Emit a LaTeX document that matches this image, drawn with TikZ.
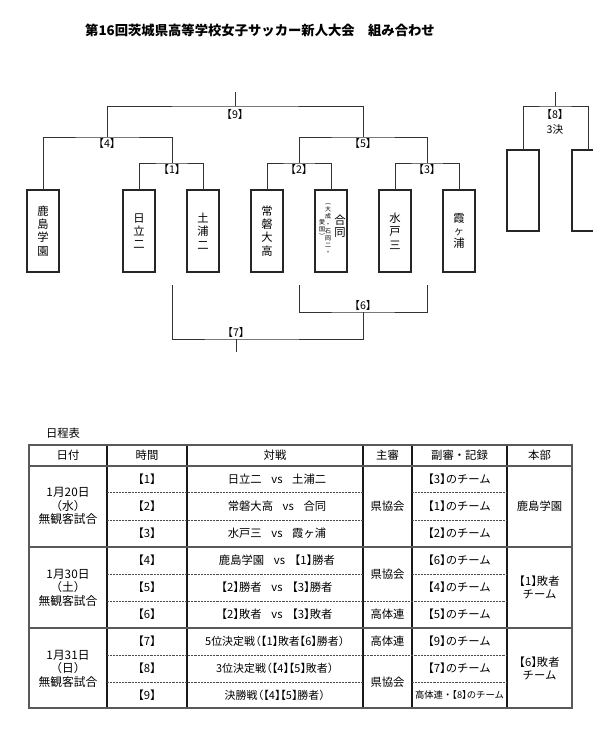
\documentclass[tikz,border=0pt]{standalone}
\usepackage{fontspec}
\setmainfont{Noto Sans CJK JP}
\usepackage{tikz}
\newcommand\bkt[1]{\makebox[0.5em][r]{【}#1\makebox[0.5em][l]{】}}
\newcommand\lpar{\makebox[0.55em][r]{（}}
\newcommand\rpar{\makebox[0.55em][l]{）}}
\newcommand\vsgap{\hspace{0.85em}}

\begin{document}
\begin{tikzpicture}[x=0.75pt, y=-0.75pt,
    line/.style={line width=0.75pt, black!80},
    teambox/.style={draw=black!85, line width=0.9pt, minimum width=24pt, minimum height=61.5pt,
        inner sep=0pt, align=center, font=\fontsize{8.5}{10}\selectfont},
    emptybox/.style={draw=black!85, line width=0.9pt, minimum width=24pt, minimum height=60.75pt, inner sep=0pt},
    tag/.style={inner sep=0pt, font=\fontsize{8}{9}\selectfont},
    cell/.style={inner sep=0pt, align=center, font=\fontsize{8.5}{10}\selectfont},
    smallcell/.style={inner sep=0pt, align=center, font=\fontsize{8.2}{9}\selectfont},
    tblframe/.style={line width=1.3pt, black!65},
    tblline/.style={line width=0.9pt, black!90},
    tbldot/.style={line width=0.5pt, black!70, dash pattern=on 0.5pt off 0.6pt}]
    \clip (0,0) rectangle (593,729);

    % title
    \node[font=\fontsize{10}{12}\selectfont\bfseries] (title) at (260, 30) {第16回茨城県高等学校女子サッカー新人大会　組み合わせ};

    % teams
    \node[teambox] (kashima) at (43, 231) {鹿\\島\\学\\園};
    \node[teambox] (hitachi) at (139, 231) {日\\立\\二};
    \node[teambox] (tsuchiura) at (203, 231) {土\\浦\\二};
    \node[teambox] (joban) at (267, 231) {常\\磐\\大\\高};
    \node[teambox] (godo) at (331, 231) {};
    \node[teambox] (mito) at (395, 231) {水\\戸\\三};
    \node[teambox, font=\fontsize{8.5}{9.5}\selectfont] (kasumi) at (459, 231) {霞\\{\fontsize{6.5}{7}\selectfont ケ}\\浦};
    \node[inner sep=0pt, align=center, font=\fontsize{8.5}{9}\selectfont] (godoname) at (340, 226) {合\\同};
    \node[inner sep=0pt, align=center, font=\fontsize{4.5}{5.3}\selectfont] (godosub1) at (328, 229) {︵\\大\\成\\・\\石\\岡\\二\\・};
    \node[inner sep=0pt, align=center, font=\fontsize{4.5}{5.3}\selectfont] (godosub2) at (322, 229) {愛\\国\\︶};

    % third place boxes
    \node[emptybox] (third1) at (523, 190.5) {};
    \node[emptybox] (third2) at (588, 190.5) {};

    % bracket joints
    \coordinate (top9) at (235, 92);
    \coordinate (j9) at (235, 106);
    \coordinate (j4) at (107, 137);
    \coordinate (j5) at (363, 137);
    \coordinate (j1) at (172, 163);
    \coordinate (j2) at (299, 163);
    \coordinate (j3) at (427, 163);
    \coordinate (top8) at (555, 92);
    \coordinate (j8) at (555, 106);
    \coordinate (b1) at (172, 285);
    \coordinate (b2) at (299, 285);
    \coordinate (b3) at (427, 285);
    \coordinate (j6) at (363, 312);
    \coordinate (j7) at (236, 339);
    \coordinate (end7) at (236, 352);

    \draw[line] (hitachi.north) |- (j1) -| (tsuchiura.north);
    \draw[line] (joban.north) |- (j2) -| (godo.north);
    \draw[line] (mito.north) |- (j3) -| (kasumi.north);
    \draw[line] (kashima.north) |- (j4) -| (j1);
    \draw[line] (j2) |- (j5) -| (j3);
    \draw[line] (j4) |- (j9) -| (j5);
    \draw[line] (j9) -- (top9);
    \draw[line] (third1.north) |- (j8) -| (third2.north);
    \draw[line] (j8) -- (top8);
    \draw[line] (b2) |- (j6) -| (b3);
    \draw[line] (j6) |- (j7) -| (b1);
    \draw[line] (j7) -- (end7);

    \node[tag] (m9) at (235, 114) {\bkt{9}};
    \node[tag] (m4) at (107, 143) {\bkt{4}};
    \node[tag] (m5) at (363, 143) {\bkt{5}};
    \node[tag] (m1) at (172, 169) {\bkt{1}};
    \node[tag] (m2) at (299, 169) {\bkt{2}};
    \node[tag] (m3) at (427, 169) {\bkt{3}};
    \node[tag] (m8) at (555, 114) {\bkt{8}};
    \node[tag] (m8b) at (555, 129) {3決};
    \node[tag] (m6) at (363, 305) {\bkt{6}};
    \node[tag] (m7) at (236, 332) {\bkt{7}};

    % schedule table
    \node[cell] (schedule) at (63, 433) {日程表};
    \foreach \x in {107, 187, 363, 412, 507}
        \draw[tblline] (\x, 445) -- (\x, 708);
    \draw[tblframe] (29, 445) rectangle (572, 708);
    \draw[tblframe] (29, 466) -- (572, 466);
    \draw[tblframe] (29, 547) -- (572, 547);
    \draw[tblframe] (29, 628) -- (572, 628);
    \draw[tbldot] (107, 492) -- (363, 492) (412, 492) -- (507, 492);
    \draw[tbldot] (107, 520) -- (363, 520) (412, 520) -- (507, 520);
    \draw[tbldot] (107, 574) -- (363, 574) (412, 574) -- (507, 574);
    \draw[tbldot] (107, 601) -- (507, 601);
    \draw[tbldot] (107, 655) -- (507, 655);
    \draw[tbldot] (107, 682) -- (363, 682) (412, 682) -- (507, 682);

    % header
    \node[cell] (hdate) at (68, 455.5) {日付};
    \node[cell] (htime) at (147, 455.5) {時間};
    \node[cell] (hmatch) at (275, 455.5) {対戦};
    \node[cell] (href) at (387.5, 455.5) {主審};
    \node[cell] (hsub) at (459.5, 455.5) {副審・記録};
    \node[cell] (hhq) at (539.5, 455.5) {本部};

    % dates
    \node[cell, font=\fontsize{8.8}{10.2}\selectfont] (date1) at (68, 506) {1月20日\\（水）\\無観客試合};
    \node[cell, font=\fontsize{8.8}{10.2}\selectfont] (date2) at (68, 587.5) {1月30日\\（土）\\無観客試合};
    \node[cell, font=\fontsize{8.8}{10.2}\selectfont] (date3) at (68, 668.5) {1月31日\\（日）\\無観客試合};

    % times
    \foreach \i/\y in {1/479, 2/506, 3/533.5, 4/560.5, 5/587.5, 6/614.5, 7/641.5, 8/668.5, 9/695}
        \node[cell] (time\i) at (147, \y) {\bkt{\i}};

    % matches
    \node[cell] (match1) at (277, 479) {日立二\vsgap vs\vsgap 土浦二};
    \node[cell] (match2) at (277, 506) {常磐大高\vsgap vs\vsgap 合同};
    \node[cell] (match3) at (277, 533.5) {水戸三\vsgap vs\vsgap 霞ヶ浦};
    \node[cell] (match4) at (277, 560.5) {鹿島学園\vsgap vs\vsgap \bkt{1}勝者};
    \node[cell] (match5) at (277, 587.5) {\bkt{2}勝者\vsgap vs\vsgap \bkt{3}勝者};
    \node[cell] (match6) at (277, 614.5) {\bkt{2}敗者\vsgap vs\vsgap \bkt{3}敗者};
    \node[smallcell] (match7) at (275, 641.5) {5位決定戦\lpar\bkt{1}敗者\bkt{6}勝者\rpar};
    \node[smallcell] (match8) at (275, 668.5) {3位決定戦\lpar\bkt{4}\bkt{5}敗者\rpar};
    \node[smallcell] (match9) at (275, 695) {決勝戦\lpar\bkt{4}\bkt{5}勝者\rpar};

    % referees
    \node[cell] (ref1) at (387.5, 506) {県協会};
    \node[cell] (ref2) at (387.5, 574) {県協会};
    \node[cell] (ref3) at (387.5, 614.5) {高体連};
    \node[cell] (ref4) at (387.5, 641.5) {高体連};
    \node[cell] (ref5) at (387.5, 682) {県協会};

    % assistants
    \node[cell] (sub1) at (459.5, 479) {\bkt{3}のチーム};
    \node[cell] (sub2) at (459.5, 506) {\bkt{1}のチーム};
    \node[cell] (sub3) at (459.5, 533.5) {\bkt{2}のチーム};
    \node[cell] (sub4) at (459.5, 560.5) {\bkt{6}のチーム};
    \node[cell] (sub5) at (459.5, 587.5) {\bkt{4}のチーム};
    \node[cell] (sub6) at (459.5, 614.5) {\bkt{5}のチーム};
    \node[cell] (sub7) at (459.5, 641.5) {\bkt{9}のチーム};
    \node[cell] (sub8) at (459.5, 668.5) {\bkt{7}のチーム};
    \node[smallcell, font=\fontsize{7}{8}\selectfont] (sub9) at (459.5, 695) {高体連・\bkt{8}のチーム};

    % headquarters
    \node[cell] (hq1) at (539.5, 506) {鹿島学園};
    \node[cell] (hq2) at (539.5, 587.5) {\bkt{1}敗者\\チーム};
    \node[cell] (hq3) at (539.5, 668.5) {\bkt{6}敗者\\チーム};
\end{tikzpicture}
\end{document}
